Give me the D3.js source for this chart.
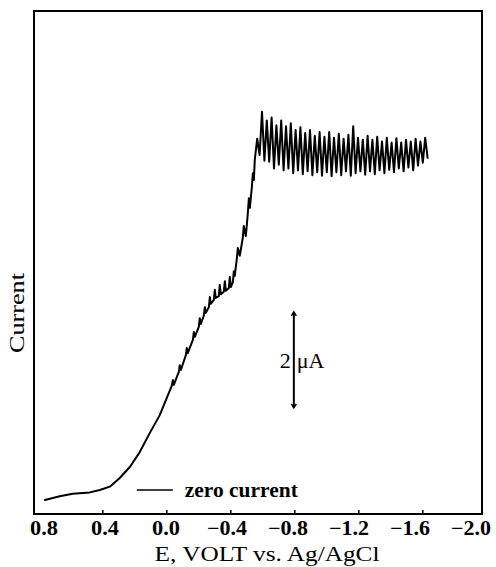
<!DOCTYPE html>
<html><head><meta charset="utf-8">
<script src="https://cdn.jsdelivr.net/npm/d3@7"></script>
<style>body{margin:0;background:#fff}svg{display:block}</style>
</head><body>
<script>
// Rising portion (E in V vs Ag/AgCl, current in µA)
const riseE = [0.762,0.669,0.588,0.481,0.419,0.356,0.294,0.231,0.169,0.106,0.044,0.000,
  -0.031,-0.038,-0.044,-0.075,-0.081,-0.088,-0.119,-0.125,-0.131,-0.163,-0.169,-0.175,
  -0.200,-0.206,-0.213,-0.231,-0.238,-0.244,-0.263,-0.269,-0.275,-0.294,-0.300,-0.306,
  -0.325,-0.331,-0.338,-0.356,-0.363,-0.369,-0.388,-0.394,-0.400,-0.413,-0.419,-0.425,
  -0.438,-0.444,-0.456,-0.475,-0.481,-0.494,-0.506,-0.513,-0.519,-0.531,-0.538,-0.544];
const riseI = [-0.21,-0.13,-0.08,-0.05,0.00,0.07,0.25,0.48,0.79,1.19,1.56,1.92,
  2.17,2.29,2.19,2.46,2.60,2.50,2.81,2.96,2.85,3.13,3.29,3.19,
  3.40,3.58,3.46,3.63,3.81,3.69,3.81,4.02,3.88,3.96,4.17,4.00,
  4.04,4.27,4.08,4.13,4.35,4.15,4.21,4.44,4.23,4.33,4.56,4.46,
  4.83,5.04,4.88,5.25,5.50,5.29,5.75,6.08,5.88,6.29,6.60,6.46];
// Oscillating plateau
const oscE = [-0.550,-0.565,-0.580,-0.595,-0.610,-0.625,-0.640,-0.655,-0.670,-0.685,
  -0.700,-0.715,-0.730,-0.745,-0.760,-0.775,-0.790,-0.805,-0.820,-0.835,
  -0.850,-0.865,-0.880,-0.895,-0.910,-0.925,-0.940,-0.955,-0.970,-0.985,
  -1.000,-1.015,-1.030,-1.045,-1.060,-1.075,-1.090,-1.105,-1.120,-1.135,
  -1.150,-1.165,-1.180,-1.195,-1.210,-1.225,-1.240,-1.255,-1.270,-1.285,
  -1.300,-1.315,-1.330,-1.345,-1.360,-1.375,-1.390,-1.405,-1.420,-1.435,
  -1.450,-1.465,-1.480,-1.495,-1.510,-1.525,-1.540,-1.555,-1.570,-1.585,
  -1.600,-1.615,-1.630];
const oscI = [6.88,7.32,6.98,7.88,6.86,7.70,6.84,7.76,6.70,7.60,
  6.78,7.70,6.66,7.58,6.70,7.64,6.60,7.50,6.66,7.56,
  6.58,7.44,6.64,7.50,6.56,7.38,6.62,7.46,6.55,7.36,
  6.62,7.46,6.54,7.34,6.62,7.42,6.56,7.32,6.64,7.40,
  6.55,7.58,6.60,7.34,6.64,7.30,6.57,7.38,6.64,7.30,
  6.58,7.36,6.66,7.26,6.60,7.34,6.67,7.24,6.62,7.33,
  6.70,7.24,6.64,7.30,6.72,7.26,6.66,7.32,6.76,7.26,
  6.82,7.34,6.92];
const tickValues = [0.8,0.4,0.0,-0.4,-0.8,-1.2,-1.6,-2.0];
const tickLabels = ["0.8","0.4","0.0","\u22120.4","\u22120.8","\u22121.2","\u22121.6","\u22122.0"];
const scaleBar = {E: -0.794, from: 1.71, to: 3.71, label: "\u03BCA", value: "2"};
const zeroLegend = {E0: 0.1875, E1: -0.0375, label: "zero current"};

const W = 496, H = 567;
const svg = d3.select("body").append("svg").attr("width", W).attr("height", H);
const x = d3.scaleLinear().domain([0.83, -1.97]).range([34, 482]);
const y = d3.scaleLinear().domain([-0.5, 9.98]).range([514, 11]);
const xl = d3.scaleLinear().domain([0.8, -2.0]).range([44, 471]);
const serif = "'Liberation Serif','DejaVu Serif',serif";

// frame
svg.append("rect").attr("x", x.range()[0]).attr("y", y.range()[1])
  .attr("width", x.range()[1]-x.range()[0]).attr("height", y.range()[0]-y.range()[1])
  .attr("fill","none").attr("stroke","#000").attr("stroke-width",2);

// bottom ticks (inward)
svg.append("g").selectAll("line").data(tickValues.filter(v => v < 0.8 && v > -2.0)).join("line")
  .attr("x1", d=>x(d)).attr("x2", d=>x(d)).attr("y1", y.range()[0]).attr("y2", y.range()[0]-4)
  .attr("stroke","#000").attr("stroke-width",1.5);

// tick labels
svg.append("g").selectAll("text").data(tickValues).join("text")
  .attr("x", d=>xl(d)).attr("y", 535).attr("text-anchor","middle")
  .attr("font-family", serif).attr("font-weight","bold").attr("font-size",20)
  .attr("textLength",(d,i)=> i<3 ? 28 : 40).attr("lengthAdjust","spacingAndGlyphs")
  .text((d,i)=>tickLabels[i]);

// axis titles
svg.append("text").attr("x", 267).attr("y", 561).attr("text-anchor","middle")
  .attr("font-family", serif).attr("font-size",21)
  .attr("textLength",225).attr("lengthAdjust","spacingAndGlyphs")
  .text("E, VOLT vs. Ag/AgCl");
svg.append("text").attr("transform","translate(24,313) rotate(-90)").attr("text-anchor","middle")
  .attr("font-family", serif).attr("font-size",21)
  .attr("textLength",80).attr("lengthAdjust","spacingAndGlyphs")
  .text("Current");

// curve
const pts = riseE.map((e,i)=>[e, riseI[i]]).concat(oscE.map((e,i)=>[e, oscI[i]]));
svg.append("path").datum(pts)
  .attr("d", d3.line().x(d=>x(d[0])).y(d=>y(d[1])))
  .attr("fill","none").attr("stroke","#000").attr("stroke-width",2)
  .attr("stroke-linejoin","round").attr("stroke-linecap","round");

// zero current legend
svg.append("line").attr("x1", x(zeroLegend.E0)).attr("x2", x(zeroLegend.E1))
  .attr("y1", y(0)).attr("y2", y(0)).attr("stroke","#000").attr("stroke-width",1.3);
svg.append("text").attr("x", x(zeroLegend.E1)+12).attr("y", y(0)+7)
  .attr("font-family", serif).attr("font-weight","bold").attr("font-size",21)
  .attr("textLength",113).attr("lengthAdjust","spacingAndGlyphs")
  .text(zeroLegend.label);

// scale bar
const bx = x(scaleBar.E);
svg.append("line").attr("x1",bx).attr("x2",bx).attr("y1",y(scaleBar.from)).attr("y2",y(scaleBar.to))
  .attr("stroke","#000").attr("stroke-width",2);
const ah = 4;
[[y(scaleBar.to), 1],[y(scaleBar.from), -1]].forEach(([yy,dir])=>{
  svg.append("path").attr("d", `M${bx-2.5},${yy+dir*ah}L${bx},${yy}L${bx+2.5},${yy+dir*ah}`)
    .attr("fill","none").attr("stroke","#000").attr("stroke-width",1.5);
});
const mid = y((scaleBar.from+scaleBar.to)/2);
svg.append("text").attr("x", bx-3).attr("y", mid+8).attr("text-anchor","end")
  .attr("font-family", serif).attr("font-size",22).text(scaleBar.value);
svg.append("text").attr("x", bx+3).attr("y", mid+8)
  .attr("font-family", serif).attr("font-size",22).text(scaleBar.label);
</script>
</body></html>
